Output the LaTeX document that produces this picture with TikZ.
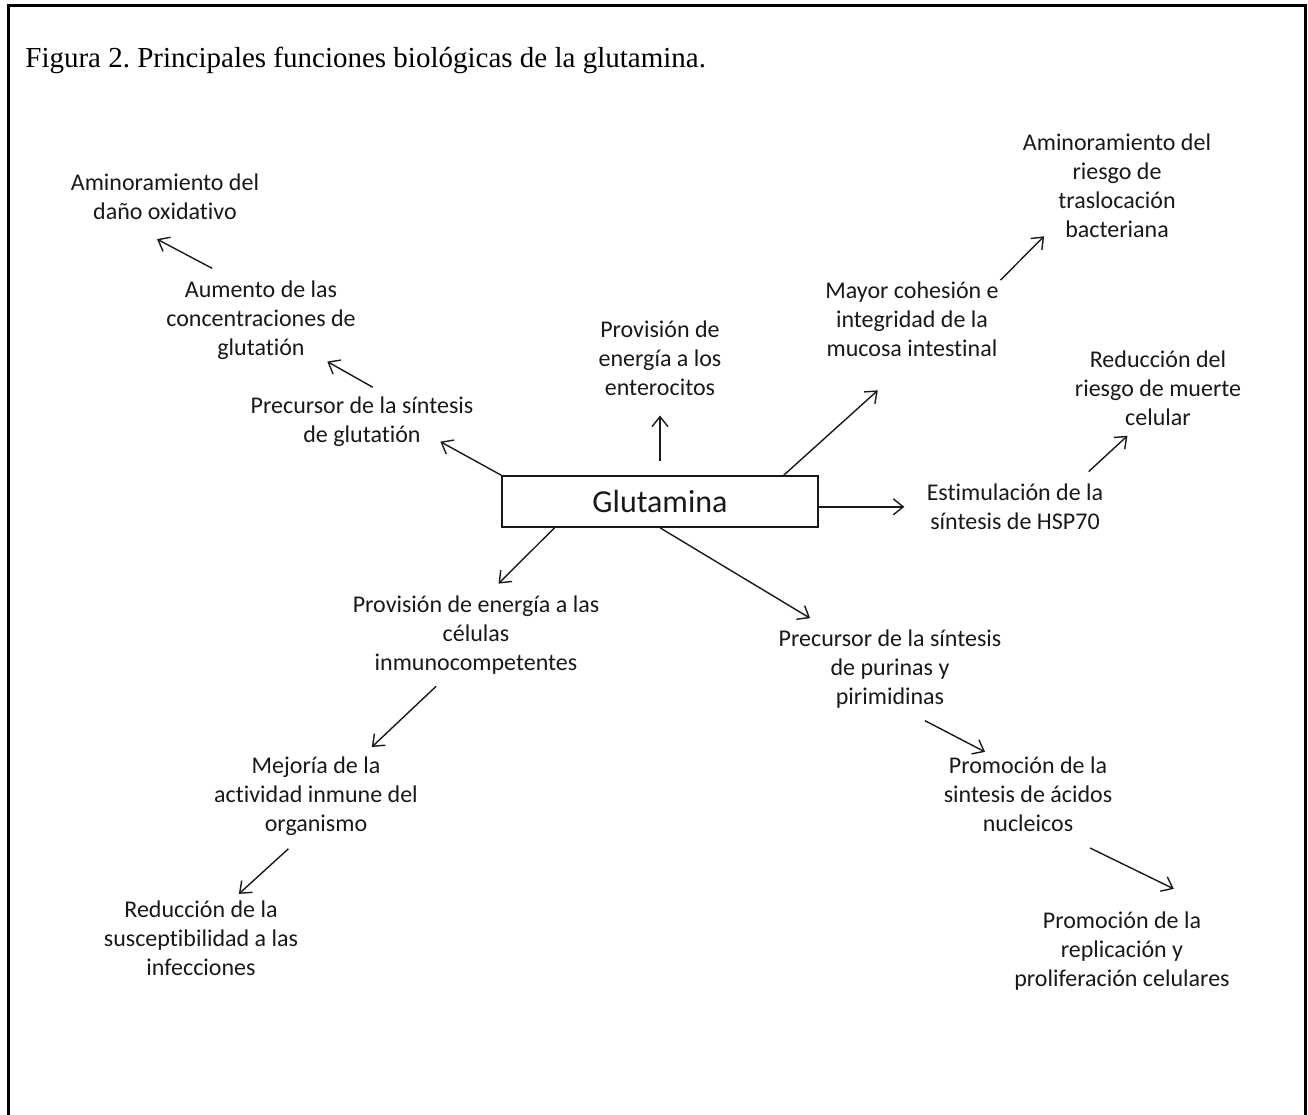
\documentclass[tikz,border=0pt]{standalone}
\usepackage{fontspec}
\setmainfont{Liberation Serif}
\newfontfamily\calibri[Ligatures={NoCommon}]{Carlito}
\usepackage{xcolor}
\definecolor{inkgray}{RGB}{25,25,25}
\usetikzlibrary{arrows.meta}
\frenchspacing
\tikzset{
  fn/.style={font=\calibri\fontsize{12}{14.5}\selectfont, align=center, inner sep=0pt, text=inkgray, anchor=north},
  arr/.style={-{Straight Barb[length=5pt,width=8pt]}, line width=0.7pt, draw=inkgray},
  mainbox/.style={draw=inkgray, line width=0.8pt, minimum width=158pt, minimum height=25.5pt, inner sep=0pt,
    text=inkgray, font=\calibri\fontsize{16}{19}\selectfont}
}

\begin{document}
\begin{tikzpicture}[x=0.5pt, y=-0.5pt]
  \useasboundingbox (0,0) rectangle (1308,1115);
  % Frame, open at the bottom
  \draw[line width=1.5pt] (8,1115) -- (8,5) -- (1305,5) -- (1305,1115);
  % Caption
  \node[anchor=base west, inner sep=0pt, font=\fontsize{14.5}{17}\selectfont] (cap) at (25,67)
    {Figura 2. Principales funciones biológicas de la glutamina.};
  % Central box
  \node[mainbox] (glut) at (660,501.5) {Glutamina};
  % Upper left branch
  \node[fn] (precglut) at (362,396.5) {Precursor de la síntesis\\de glutatión};
  \node[fn] (aumglut) at (261,280.5) {Aumento de las\\concentraciones de\\glutatión};
  \node[fn] (oxid) at (165,173.5) {Aminoramiento del\\daño oxidativo};
  % Upper branch
  \node[fn] (enter) at (660,320.5) {Provisión de\\energía a los\\enterocitos};
  % Upper right branch
  \node[fn] (mucosa) at (912,281.5) {Mayor cohesión e\\integridad de la\\mucosa intestinal};
  \node[fn] (transloc) at (1117,133.5) {Aminoramiento del\\riesgo de\\traslocación\\bacteriana};
  % Right branch
  \node[fn] (hsp) at (1015,483.5) {Estimulación de la\\síntesis de HSP70};
  \node[fn] (muerte) at (1158,350.5) {Reducción del\\riesgo de muerte\\celular};
  % Lower left branch
  \node[fn] (inmuno) at (476,595.5) {Provisión de energía a las\\células\\inmunocompetentes};
  \node[fn] (mejoria) at (316,756.5) {Mejoría de la\\actividad inmune del\\organismo};
  \node[fn] (infec) at (201,900.5) {Reducción de la\\susceptibilidad a las\\infecciones};
  % Lower right branch
  \node[fn] (purinas) at (890,629.5) {Precursor de la síntesis\\de purinas y\\pirimidinas};
  \node[fn] (acidos) at (1028,756.5) {Promoción de la\\sintesis de ácidos\\nucleicos};
  \node[fn] (replic) at (1122,911.5) {Promoción de la\\replicación y\\proliferación celulares};
  % Arrows
  \draw[arr, shorten >=-5.6pt] (glut.north west) -- (precglut.-16);
  \draw[arr, shorten <=9.4pt, shorten >=1.5pt] (precglut.43) -- (aumglut.-32);
  \draw[arr, shorten <=13pt, shorten >=20.3pt] (aumglut.123) -- (oxid.-152);
  \draw[arr, shorten <=7pt, shorten >=9.7pt] (glut.north) -- (enter.south);
  \draw[arr, shorten >=24.8pt] (glut.12) -- (mucosa.-86);
  \draw[arr, shorten <=1pt, shorten >=-1.3pt] (mucosa.north east) -- (transloc.-145);
  \draw[arr, shorten >=11pt] (glut.east |- hsp.west) -- (hsp.west);
  \draw[arr, shorten <=8.8pt, shorten >=7.1pt] (hsp.21) -- (muerte.-118);
  \draw[arr, shorten >=8.4pt] (glut.-166) -- (inmuno.75);
  \draw[arr, shorten >=11pt] (glut.south) -- (purinas.147);
  \draw[arr, shorten <=8.3pt, shorten >=6.9pt] (inmuno.-125) -- (mejoria.41);
  \draw[arr, shorten <=9.4pt, shorten >=4.9pt] (mejoria.-109) -- (infec.51);
  \draw[arr, shorten <=12.8pt, shorten >=5pt] (purinas.-73) -- (acidos.132);
  \draw[arr, shorten <=18.1pt, shorten >=25.8pt] (acidos.-52) -- (replic.22);
\end{tikzpicture}
\end{document}
